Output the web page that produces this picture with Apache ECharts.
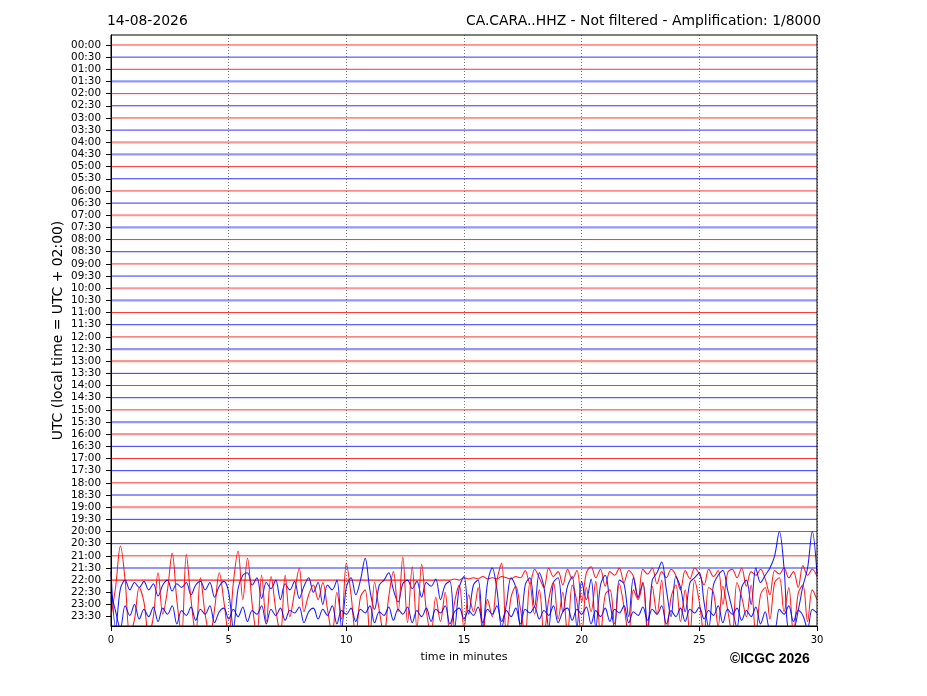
<!DOCTYPE html>
<html>
<head>
<meta charset="utf-8">
<script src="https://cdn.jsdelivr.net/npm/echarts@6/dist/echarts.min.js"></script>
<style>
html,body{margin:0;padding:0;background:#fff;}
#chart{width:927px;height:696px;}
</style>
</head>
<body>
<div id="chart"></div>
<script>
// ---- Data ----
const traceLabels = ['00:00','00:30','01:00','01:30','02:00','02:30','03:00','03:30','04:00','04:30',
  '05:00','05:30','06:00','06:30','07:00','07:30','08:00','08:30','09:00','09:30',
  '10:00','10:30','11:00','11:30','12:00','12:30','13:00','13:30','14:00','14:30',
  '15:00','15:30','16:00','16:30','17:00','17:30','18:00','18:30','19:00','19:30',
  '20:00','20:30','21:00','21:30','22:00','22:30','23:00','23:30'];
const xTicks = [0, 5, 10, 15, 20, 25, 30];
// traces that look like hazy (high-frequency, low amplitude) lines
const hazyTraces = ['01:30','04:00','04:30','07:00','07:30','10:00','10:30','12:30','13:00','15:30','16:00','18:30','19:00','21:30'];
// sample step (minutes) of the detailed traces below
const sampleStep = 0.2;
// deflections (in trace spacings, up positive)
const trace2200 = [
  0,0,0,0,0,0,0,0,0,0, 0,0,0,0,0,0,0,0,0,0, 0,0,0,0,0,0,0,0,0,0,
  0,0,0,0,0,0,0,0,0,0, 0,0,0,0,0,0,0,0,0,0, 0,0,0,0,0,0,0,0,0,0,
  0,0,0,0,0,0,0,0,0,0, 0,0,0,
  0.1,0.0,0.2,0.1,0.2,0.1,0.3,0.1,0.2,0.1,0.3,0.2,0.1,0.3,0.2,
  0.8,-0.3,0.9,0.2,-0.6,1.0,0.3,0.7,-0.4,0.9,
  0.1,0.8,-1.8,0.6,1.1,0.2,0.9,-0.5,0.7,0.4,
  1.0,-0.2,0.8,0.3,-1.5,0.9,0.5,1.0,-0.3,0.7,
  0.2,0.9,0.4,-0.8,0.8,0.1,1.0,0.5,-0.4,0.9,
  0.3,0.8,-2.0,0.6,0.9,0.2,1.0,-0.5,0.7,0.4,
  0.9,0.1,-1.2,0.8,0.5,1.0,0.2,0.7,-0.6,1.2,
  0.4,0.9,0.3];
const trace2230 = [
  1.7,-2.9,0.3,1.0,0.2,0.8,0.4,0.9,0.2,0.7,
  -0.3,0.6,1.0,0.1,0.7,0.4,0.8,-0.2,0.6,0.9,
  0.2,0.8,-0.4,0.5,0.9,0.0,-2.9,0.3,1.4,1.6,
  0.6,1.2,-0.5,0.8,0.3,1.0,-0.6,0.7,0.2,0.9,
  -0.5,0.5,1.2,0.0,0.8,-1.0,0.6,0.2,1.0,-2.9,
  0.4,1.2,-0.2,1.0,2.8,0.2,-1.4,0.6,1.0,1.6,
  0.2,-0.8,0.7,1.0,0.3,0.9,-0.4,0.8,0.5,1.1,
  -0.6,0.6,0.9,-2.9,0.4,1.3,-1.8,0.6,1.0,-2.9,
  0.8,2.0,0.2,-2.9,-1.0,1.2,0.4,-2.9,0.6,1.2,
  -1.2,1.6,0.4,-2.9,0.8,1.2,-1.6,0.5,1.3,-2.9,
  0.9,-0.6,1.1,-2.9,0.6,1.4,-0.8,-2.9,1.0,0.7,
  -2.0,1.2,-0.4,0.8,-2.9,1.0,1.6,2.5,0.2,-2.0,
  1.3,0.4,-1.6,0.8,1.2,1.6,-0.8,-2.9,0.6,1.4,
  1.8,0.2,-1.4,-2.9,0.4,1.0,-1.0,2.0,0.8,1.4,
  2.0,3.0,5.0,2.0,-2.9,-2.9,-1.5,0.5,2.0,5.0,
  1.5];
const trace2300 = [
  -1.0,1.5,4.8,2.0,-2.5,-1.2,1.4,0.2,-2.5,-1.0,
  2.6,-0.8,1.2,4.2,0.3,-2.5,4.1,0.4,-2.5,2.2,
  -0.8,-2.5,-0.4,2.6,0.2,-2.5,1.8,4.4,0.4,3.8,
  0.0,-2.5,2.4,-1.4,2.3,-0.4,-2.5,2.4,-1.0,1.0,
  3.0,-0.6,0.8,1.6,0.4,1.8,-0.4,-2.5,1.0,-1.2,
  3.4,0.8,-2.5,0.6,1.2,-2.5,1.8,-0.5,-2.5,0.6,
  2.7,-0.6,3.9,-1.5,3.1,-2.0,3.3,-0.5,-2.5,0.6,
  -1.4,1.0,-2.5,0.2,1.6,-2.0,0.8,-0.6,1.4,-2.5,
  0.4,-1.0,2.0,3.4,-2.5,0.6,1.5,-0.4,-2.5,1.8,
  -0.8,1.2,-2.5,0.4,1.8,-1.2,1.0,-2.5,1.6,0.2,
  -2.5,1.4,-0.6,1.9,-2.5,0.8,1.2,-1.6,1.7,-0.2,
  -2.5,1.2,0.4,1.8,-2.5,1.5,-0.8,2.0,-2.5,0.6,
  1.6,-1.4,1.2,-2.5,2.0,0.2,-2.5,1.4,1.0,-1.8,
  1.5,-0.4,-2.5,1.8,0.6,-1.0,1.6,-2.5,0.8,1.4,
  -1.2,1.8,2.2,-0.6,1.4,-2.5,0.9,1.6,-1.4,1.2,
  0.4];
const trace2330 = [
  2.0,0.4,-1.0,0.9,0.1,1.0,-0.2,0.6,0.0,0.8,
  -0.4,0.7,0.2,0.9,-0.6,0.5,0.1,0.8,-0.3,0.6,
  0.2,0.9,-0.5,0.4,0.7,-0.2,0.6,0.0,0.8,-0.4,
  0.5,0.2,0.9,-0.6,0.6,0.1,0.7,-0.3,0.5,0.3,
  0.8,-0.5,0.4,0.7,-0.2,0.6,0.1,0.9,-0.6,0.5,
  0.2,0.7,-0.4,0.6,0.3,0.9,-0.5,0.4,0.1,0.8,
  -0.3,0.6,0.2,0.8,-0.5,0.5,0.0,0.7,-0.4,0.6,
  0.3,0.9,-0.6,0.4,0.7,-0.2,0.5,0.1,0.8,-0.5,
  0.6,0.2,0.9,-0.4,0.5,0.0,0.7,-0.6,0.6,0.3,
  0.8,-0.2,0.5,0.1,0.9,-0.5,0.4,0.7,-0.3,0.6,
  0.2,0.8,-0.6,0.5,0.0,0.7,-0.4,0.6,0.3,0.9,
  -0.5,0.4,0.1,0.8,-0.3,0.6,0.2,0.9,-0.6,0.5,
  0.0,0.7,-0.4,0.6,0.3,0.8,-0.2,0.5,0.1,0.9,
  -0.5,0.6,0.2,0.7,-0.3,0.5,0.0,0.8,-0.6,0.4,
  -1.0,-1.0,0.6,0.2,0.9,-0.4,0.5,0.1,-1.0,0.6,
  0.3];
const detailedTraces = {'22:00': trace2200, '22:30': trace2230, '23:00': trace2300, '23:30': trace2330};
const flatTrace = [0, 0]; // at start and end of the 30-minute window

// ---- Chart ----
const chart = echarts.init(document.getElementById('chart'), null, {renderer: 'canvas'});
const FONT = '"DejaVu Sans", sans-serif';
const series = traceLabels.map(function (lab, k) {
  const color = (k % 2 === 0) ? '#ff0000' : '#0000ff';
  let data, lw = 1, op = 0.8, smooth = false;
  if (detailedTraces[lab]) {
    data = detailedTraces[lab].map(function (d, i) { return [i * sampleStep, k - d]; });
    lw = 1.05; op = 0.9; smooth = 0.35;
  } else {
    data = [[xTicks[0], k - flatTrace[0]], [xTicks[xTicks.length - 1], k - flatTrace[1]]];
    if (hazyTraces.indexOf(lab) >= 0) { lw = 2.2; op = 0.42; }
  }
  return {
    type: 'line', name: lab, data: data, showSymbol: false, symbol: 'none', smooth: smooth,
    animation: false, silent: true, clip: true,
    lineStyle: {color: color, width: lw, opacity: op},
    z: 3
  };
});
const yIdx = traceLabels.map(function (l, i) { return i; });

chart.setOption({
  animation: false,
  backgroundColor: '#fff',
  title: [
    {text: '14-08-2026', left: 102, top: 9, textStyle: {fontFamily: FONT, fontSize: 13.9, fontWeight: 'normal', color: '#000'}},
    {text: 'CA.CARA..HHZ - Not filtered - Amplification: 1/8000', right: 101, top: 9, textStyle: {fontFamily: FONT, fontSize: 13.9, fontWeight: 'normal', color: '#000'}}
  ],
  grid: {left: 111, right: 110, top: 35, bottom: 70, show: true, borderColor: '#000', borderWidth: 1, backgroundColor: 'transparent', z: 5},
  xAxis: {
    type: 'value', min: xTicks[0], max: xTicks[xTicks.length - 1], interval: 5,
    name: 'time in minutes', nameLocation: 'middle', nameGap: 26,
    nameTextStyle: {fontFamily: FONT, fontSize: 11.1, color: '#000'},
    axisLine: {show: true, onZero: false, lineStyle: {color: '#000', width: 1}},
    axisTick: {show: true, length: 5, lineStyle: {color: '#000'}},
    axisLabel: {fontFamily: FONT, fontSize: 10, color: '#000', margin: 9},
    splitLine: {show: true, lineStyle: {color: '#555', type: [1, 2], width: 0.8}}
  },
  yAxis: {
    type: 'value', inverse: true, min: -0.82, max: 47.77,
    name: 'UTC (local time = UTC + 02:00)', nameLocation: 'middle', nameGap: 46, nameRotate: 90,
    nameMoveOverlap: false,
    nameTextStyle: {fontFamily: FONT, fontSize: 13.9, color: '#000'},
    axisLine: {show: true, onZero: false, lineStyle: {color: '#000', width: 1}},
    axisTick: {show: true, length: 5, customValues: yIdx, lineStyle: {color: '#000'}},
    axisLabel: {show: true, customValues: yIdx, fontFamily: FONT, fontSize: 10.4, color: '#000', margin: 10,
      formatter: function (v) { return traceLabels[Math.round(v)] || ''; }},
    splitLine: {show: false}
  },
  graphic: [{
    type: 'text', left: 730, top: 652,
    style: {text: '\u00A9ICGC 2026', font: 'bold 13.9px "Liberation Sans", Arial, sans-serif', fill: '#000'}
  }],
  series: series
});
</script>
</body>
</html>
